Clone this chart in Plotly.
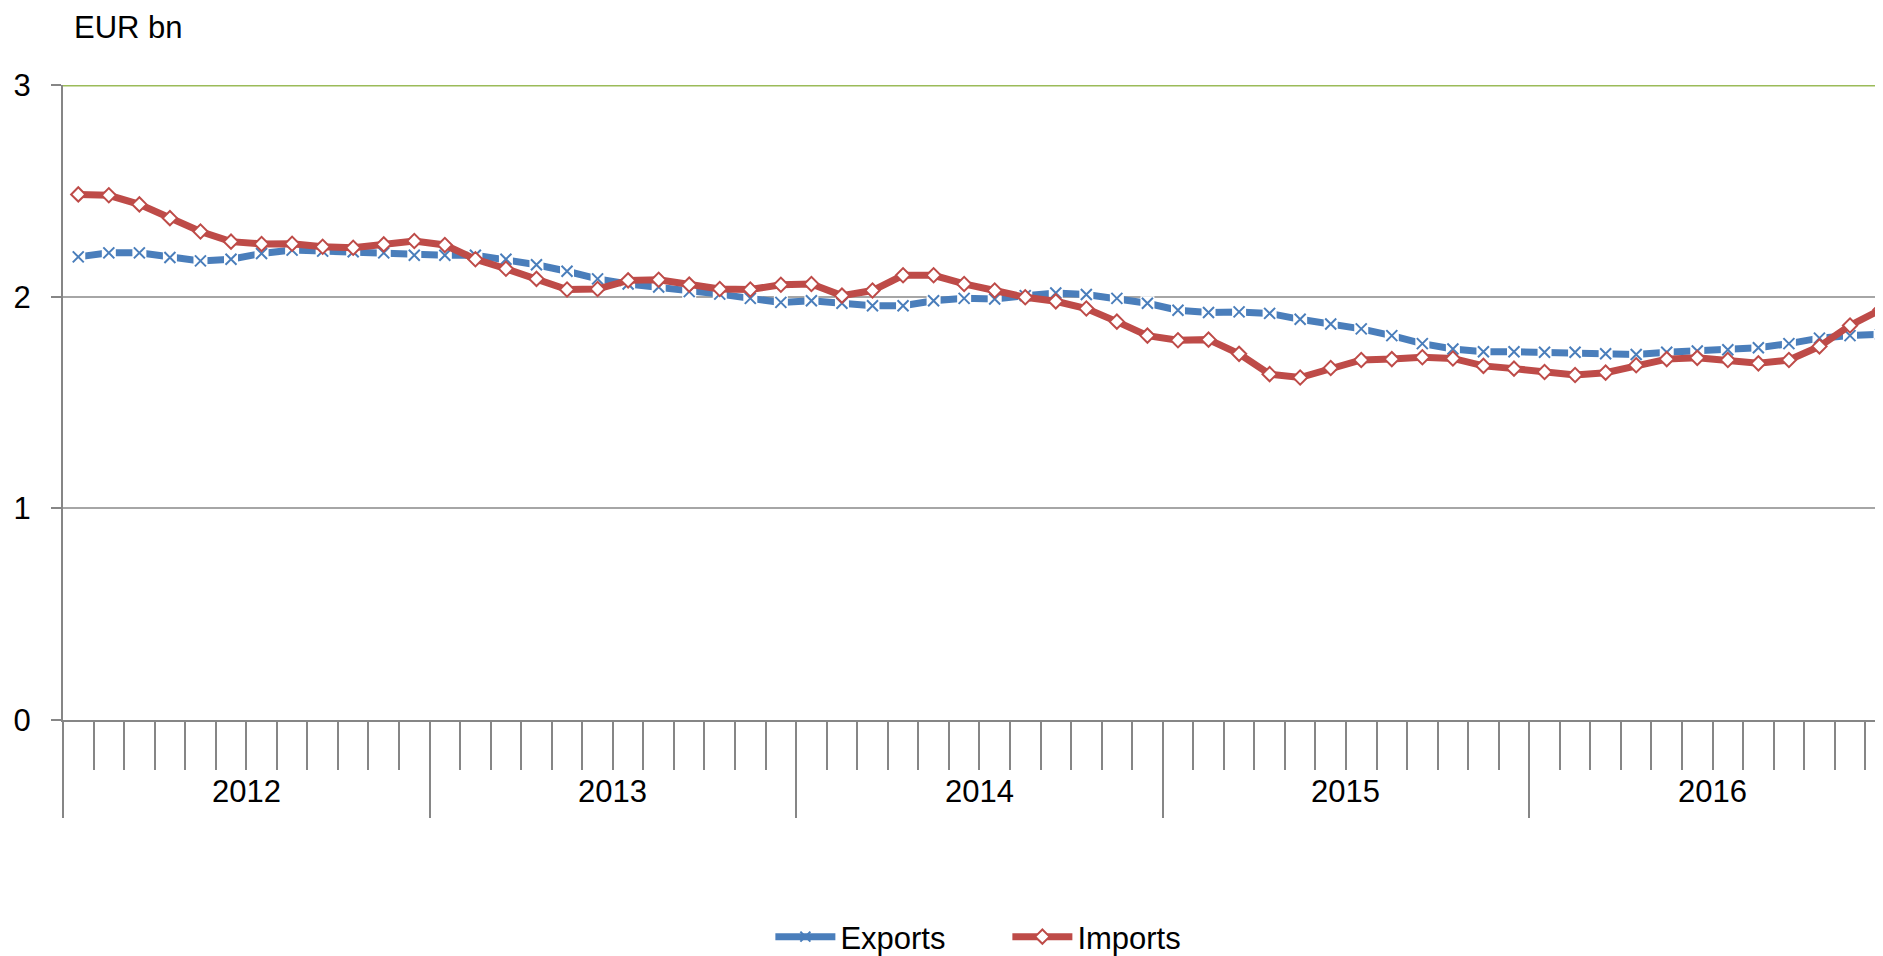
import plotly.graph_objects as go

months = list(range(60))
years = ["2012", "2013", "2014", "2015", "2016"]

exports = [2.188, 2.207, 2.207, 2.185, 2.169, 2.177, 2.204, 2.220, 2.215, 2.212,
           2.207, 2.196, 2.196, 2.196, 2.177, 2.151, 2.120, 2.084, 2.060, 2.046,
           2.024, 2.012, 1.992, 1.973, 1.981, 1.969, 1.957, 1.957, 1.981, 1.992,
           1.989, 2.005, 2.017, 2.010, 1.992, 1.969, 1.936, 1.925, 1.928, 1.921,
           1.893, 1.871, 1.848, 1.816, 1.778, 1.753, 1.740, 1.740, 1.737, 1.737,
           1.730, 1.727, 1.737, 1.743, 1.749, 1.759, 1.778, 1.804, 1.816, 1.823]

imports = [2.483, 2.479, 2.436, 2.371, 2.308, 2.260, 2.249, 2.250, 2.236, 2.231,
           2.247, 2.263, 2.244, 2.177, 2.132, 2.084, 2.034, 2.036, 2.077, 2.080,
           2.057, 2.036, 2.034, 2.056, 2.060, 2.005, 2.029, 2.101, 2.101, 2.060,
           2.029, 1.997, 1.978, 1.944, 1.882, 1.816, 1.794, 1.797, 1.730, 1.634,
           1.618, 1.663, 1.701, 1.705, 1.714, 1.708, 1.673, 1.660, 1.644, 1.630,
           1.641, 1.676, 1.705, 1.711, 1.701, 1.685, 1.701, 1.765, 1.864, 1.938]

y_ticks = [0, 1, 2, 3]

BLUE = "#4A7EBB"
RED = "#BE4B48"
GRID = "#A6A6A6"
AXIS = "#868686"
FONT = "Arial, Liberation Sans, sans-serif"

# the page body has an 8px margin, so the figure is sized to fill the rest
W, H = 1875, 948
ML, MR, MT, MB = 55, 0, 77, 236
PW, PH = W - ML - MR, H - MT - MB

fig = go.Figure()

# Exports line with x markers (legend entry)
fig.add_trace(go.Scatter(
    x=months, y=exports, name="Exports", mode="lines+markers",
    line=dict(color=BLUE, width=7),
    marker=dict(symbol="x-thin", size=10, line=dict(color=BLUE, width=2)),
))
# white knock-outs around the x markers (gives the broken-line look)
fig.add_trace(go.Scatter(
    x=months, y=exports, mode="markers", showlegend=False, hoverinfo="skip",
    marker=dict(symbol="square", size=14, color="white", line=dict(width=0)),
))
fig.add_trace(go.Scatter(
    x=months, y=exports, mode="markers", showlegend=False, hoverinfo="skip",
    marker=dict(symbol="x-thin", size=11, line=dict(color=BLUE, width=2)),
))
# Imports
fig.add_trace(go.Scatter(
    x=months, y=imports, name="Imports", mode="lines+markers",
    line=dict(color=RED, width=7),
    marker=dict(symbol="diamond", size=11, color="white", line=dict(color=RED, width=2)),
))

year_bounds = [12 * i - 0.5 for i in range(len(years) + 1)]
year_centers = [12 * i + 5.5 for i in range(len(years))]

for yc, lab in zip(year_centers, years):
    fig.add_annotation(x=yc, y=-(783 - 712) / PH, xref="x", yref="paper", text=lab,
                       showarrow=False, xanchor="center", yanchor="middle",
                       font=dict(size=31, color="black", family=FONT))

fig.add_annotation(x=(72 - 63) / PW, y=1 + MT / PH, xref="paper", yref="paper",
                   text="EUR bn", showarrow=False, xanchor="left", yanchor="top",
                   font=dict(size=31, color="black", family=FONT))

# green top border line at 3
fig.add_shape(type="line", xref="paper", yref="y", x0=0, x1=1, y0=3, y1=3,
              line=dict(color="#9BBB59", width=3), layer="above")

fig.update_layout(
    width=W, height=H,
    margin=dict(l=ML, r=MR, t=MT, b=MB, pad=0),
    paper_bgcolor="white", plot_bgcolor="white",
    font=dict(family=FONT, size=31, color="black"),
    showlegend=True,
    legend=dict(orientation="h", xref="container", yref="container",
                x=0.533, y=1 - (937 - 8) / H, xanchor="center", yanchor="middle",
                font=dict(size=31, family=FONT, color="black"),
                itemwidth=60, entrywidth=162, entrywidthmode="pixels",
                bgcolor="rgba(0,0,0,0)"),
    xaxis=dict(
        range=[-0.5, 59.08], showgrid=False, zeroline=False,
        showline=True, linecolor=AXIS, linewidth=1.5,
        tickmode="array", tickvals=year_bounds, ticktext=["" for _ in year_bounds],
        ticks="outside", ticklen=96, tickwidth=1.5, tickcolor=AXIS,
        minor=dict(tick0=-0.5, dtick=1, ticks="outside", ticklen=48,
                   tickwidth=1.5, tickcolor=AXIS, showgrid=False),
        fixedrange=True,
    ),
    yaxis=dict(
        range=[0, 3], tickmode="array", tickvals=y_ticks,
        ticktext=[str(v) for v in y_ticks],
        showgrid=True, gridcolor=GRID, gridwidth=2,
        zeroline=False, showline=True, linecolor=AXIS, linewidth=2,
        ticks="outside", ticklen=10, tickwidth=1.5, tickcolor=AXIS,
        ticklabelstandoff=14,
        tickfont=dict(size=31, family=FONT, color="black"),
        fixedrange=True,
    ),
)

fig.write_html("out.html")
